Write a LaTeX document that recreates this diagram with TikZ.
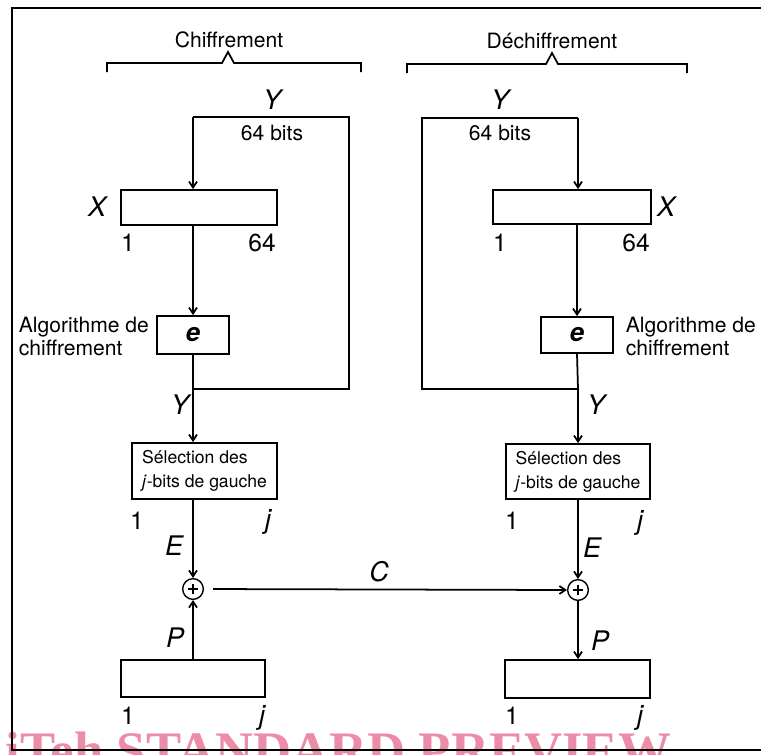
\documentclass[tikz,border=0pt]{standalone}
\usepackage{fontspec}
\setmainfont{TeX Gyre Heros}
\newfontfamily\wmfont{Liberation Serif}
\usetikzlibrary{arrows.meta,fit,positioning}
\definecolor{wmpink}{RGB}{236,140,168}

\begin{document}
\begin{tikzpicture}[x=0.03cm, y=-0.03cm, line width=1.5pt,
    blk/.style={draw, fit={#1}, inner sep=0pt},
    txt/.style={inner sep=0pt, font=\fontsize{18}{19.6}\selectfont},
    seltxt/.style={inner sep=0pt, align=left, font=\fontsize{15}{20.4}\selectfont},
    lab/.style={inner sep=0pt, font=\fontsize{23}{24}\selectfont\itshape},
    num/.style={inner sep=0pt, font=\fontsize{21}{22}\selectfont},
    arr/.style={-{Straight Barb[length=1.8mm,width=2.4mm]}},
    xor/.style={circle, draw, minimum size=0.62cm, inner sep=0pt, line width=1.2pt,
      path picture={\draw[line width=1.1pt]
        ([xshift=-0.16cm]path picture bounding box.center) -- ([xshift=0.16cm]path picture bounding box.center)
        ([yshift=-0.16cm]path picture bounding box.center) -- ([yshift=0.16cm]path picture bounding box.center);}}]

  % Clip mask
  \clip (0,0) rectangle (761,754);

  % Draw the watermark
  \node[anchor=base west, inner sep=0pt, text=wmpink, font=\wmfont\bfseries\fontsize{45}{45}\selectfont] (wm) at (5,768) {iTeh STANDARD PREVIEW};

  % Draw the outer frame
  \draw (12,8) rectangle (800,750);

  % Draw the braces
  \draw (107,72) -- (107,63) -- (222,63) -- (228,52) -- (234,63) -- (361,63) -- (361,72);
  \draw (407,73) -- (407,64) -- (546,64) -- (552,53) -- (558,64) -- (687,64) -- (687,73);
  \node[txt] (chiff) at (229,40) {Chiffrement};
  \node[txt] (dechiff) at (552,41) {Déchiffrement};

  % Left side: encryption
  \coordinate (ltop) at (193,117);
  \coordinate (ltr) at (349,117);
  \coordinate (lbr) at (349,389);
  \coordinate (ljoin) at (193,389);

  \node[blk={(121,190) (277,225)}] (xl) {};
  \node[blk={(157,316) (229,354)}] (el) {};
  \node[blk={(132,443) (277,499)}] (sl) {};
  \node[blk={(121,660) (265,697)}] (pl) {};
  \node[xor] (xorl) at (193,589) {};
  \node[font=\fontsize{22}{22}\selectfont\bfseries\itshape, inner sep=0pt] (etxtl) at (el) {e};
  \node[seltxt] (seltxtl) at (sl) {Sélection des\\\textit{j}-bits de gauche};

  \draw[arr] (ltop) -- (xl.north -| ltop);
  \draw (ltop) -- (ltr) -- (lbr) -- (ljoin);
  \draw[arr] (xl.south -| el) -- (el.north);
  \draw (el.south) -- (ljoin);
  \draw[arr] (ljoin) -- (sl.north -| ljoin);
  \draw[arr] (sl.south -| xorl) -- (xorl.north);
  \draw[arr] (pl.north -| xorl) -- (xorl.south);

  \node[lab] (yla) at (272,100) {Y};
  \node[txt] (bitsl) at (272,133) {64 bits};
  \node[lab] (xlabl) at (97,207) {X};
  \node[num] (xonel) at (128,243) {1};
  \node[num] (xendl) at (262,243) {64};
  \node[txt, anchor=west, align=left] (algl) at (18,336) {Algorithme de\\chiffrement};
  \node[lab] (ylb) at (180,405) {Y};
  \node[num] (sonel) at (137,521) {1};
  \node[lab] (sendl) at (268,522) {j};
  \node[lab] (elabl) at (174,546) {E};
  \node[lab] (plabl) at (175,638) {P};
  \node[num] (ponel) at (128,716) {1};
  \node[lab] (pendl) at (262,718) {j};

  % Right side: decryption
  \coordinate (rtop) at (578,118);
  \coordinate (rtl) at (422,118);
  \coordinate (rbl) at (422,389);
  \coordinate (rjoin) at (578,389);

  \node[blk={(493,190) (651,224)}] (xr) {};
  \node[blk={(541,317) (613,353)}] (er) {};
  \node[blk={(506,444) (650,499)}] (sr) {};
  \node[blk={(505,660) (650,698)}] (pr) {};
  \node[xor] (xorr) at (578,590) {};
  \node[font=\fontsize{22}{22}\selectfont\bfseries\itshape, inner sep=0pt] (etxtr) at (er) {e};
  \node[seltxt] (seltxtr) at (sr) {Sélection des\\\textit{j}-bits de gauche};

  \draw[arr] (rtop) -- (xr.north -| rtop);
  \draw (rtop) -- (rtl) -- (rbl) -- (rjoin);
  \draw[arr] (xr.south -| er) -- (er.north);
  \draw (er.south) -- (rjoin);
  \draw[arr] (rjoin) -- (sr.north -| rjoin);
  \draw[arr] (sr.south -| xorr) -- (xorr.north);
  \draw[arr] (xorr.south) -- (pr.north -| xorr);

  \node[lab] (yra) at (500,100) {Y};
  \node[txt] (bitsr) at (500,133) {64 bits};
  \node[lab] (xlabr) at (666,207) {X};
  \node[num] (xoner) at (500,243) {1};
  \node[num] (xendr) at (636,243) {64};
  \node[txt, anchor=west, align=left] (algr) at (625,336) {Algorithme de\\chiffrement};
  \node[lab] (yrb) at (596,405) {Y};
  \node[num] (soner) at (512,521) {1};
  \node[lab] (sendr) at (640,523) {j};
  \node[lab] (elabr) at (592,548) {E};
  \node[lab] (plabr) at (600,641) {P};
  \node[num] (poner) at (512,716) {1};
  \node[lab] (pendr) at (640,718) {j};

  % Draw the cipher link
  \draw[arr, shorten <=0.27cm] (xorl.east) -- (xorr.west);
  \node[lab] (clab) at (379,572) {C};

\end{tikzpicture}
\end{document}
